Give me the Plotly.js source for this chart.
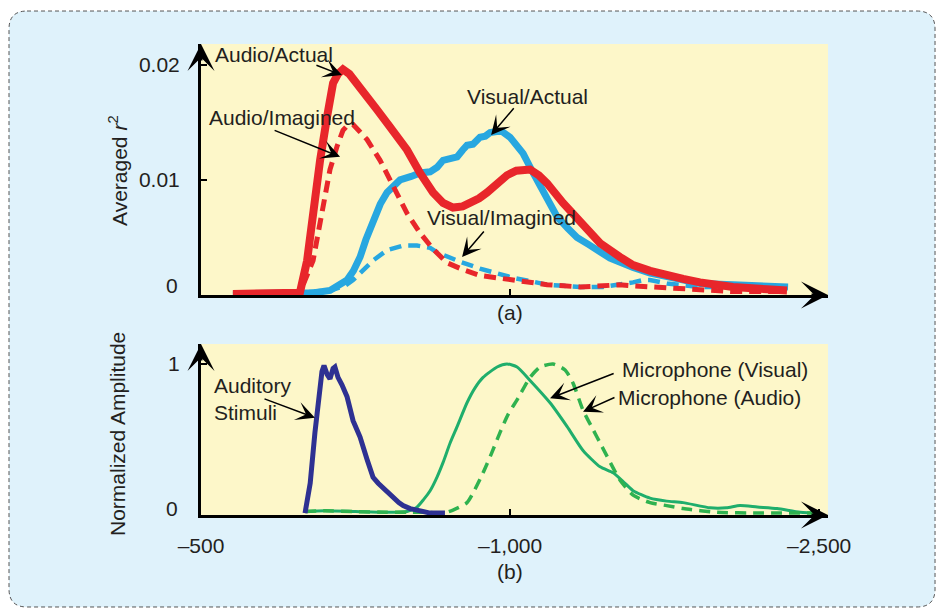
<!DOCTYPE html>
<html><head><meta charset="utf-8">
<script src="https://cdn.plot.ly/plotly-3.0.1.min.js"></script>
<style>html,body{margin:0;padding:0;background:#fff}#chart{width:936px;height:612px}</style>
</head><body><div id="chart"></div>
<script>
// ---------- Panel (a): averaged r^2 ----------
const audioActualT = [-345,-200,-100,-20,15,44,78,112,141,165,189,220,257,300,354,417,460,500,563,626,675,723,770,806,850,888,940,985,1030,1063,1097,1140,1180,1257,1340,1437,1534,1597,1680,1762,1840,1922,2000,2082,2247,2344];
const audioActual  = [0.0001,0.0001,0.0002,0.0002,0.0030,0.0074,0.0117,0.0155,0.0184,0.0192,0.0196,0.0192,0.0184,0.0172,0.0161,0.0146,0.0136,0.0126,0.0106,0.0089,0.0080,0.0076,0.0077,0.0080,0.0084,0.0089,0.0098,0.0104,0.0108,0.0109,0.0109,0.0104,0.0097,0.0080,0.0063,0.0045,0.0033,0.0026,0.0021,0.0017,0.0014,0.0011,0.0009,0.0007,0.0005,0.0004];

const visualActualT = [-345,-117,50,126,170,209,240,272,300,335,370,403,466,520,563,612,646,675,710,743,770,791,820,854,880,903,935,961,1000,1030,1063,1112,1160,1228,1280,1325,1380,1422,1485,1597,1680,1762,1840,1922,2082,2247,2349];
const visualActual  = [0.0001,0.0001,0.0002,0.0004,0.0008,0.0013,0.0021,0.0033,0.0048,0.0065,0.0079,0.0089,0.0100,0.0103,0.0106,0.0107,0.0111,0.0117,0.0118,0.0120,0.0126,0.0130,0.0131,0.0137,0.0138,0.0141,0.0142,0.0142,0.0137,0.0131,0.0123,0.0106,0.0089,0.0068,0.0058,0.0050,0.0044,0.0039,0.0032,0.0024,0.0019,0.0016,0.0013,0.0010,0.0009,0.0008,0.0007];

const audioImaginedT = [-345,-20,44,92,126,160,189,215,238,270,306,369,432,500,563,626,694,772,854,930,1014,1100,1180,1260,1340,1451,1530,1597,1680,1762,1922,2082,2247,2344];
const audioImagined  = [0.0001,0.0002,0.0030,0.0074,0.0109,0.0129,0.0143,0.0148,0.0148,0.0142,0.0135,0.0117,0.0094,0.0071,0.0054,0.0040,0.0028,0.0022,0.0017,0.0015,0.0013,0.0011,0.0009,0.0008,0.0007,0.0008,0.0009,0.0008,0.0007,0.0006,0.0004,0.0003,0.0003,0.0003];

const visualImaginedT = [-345,-117,126,199,238,272,335,403,481,548,612,646,700,757,854,930,1014,1100,1180,1260,1340,1451,1540,1597,1645,1679,1762,1840,1922,2082,2349];
const visualImagined  = [0.0001,0.0001,0.0004,0.0008,0.0013,0.0019,0.0030,0.0039,0.0043,0.0043,0.0041,0.0037,0.0033,0.0029,0.0023,0.0019,0.0015,0.0012,0.0009,0.0008,0.0007,0.0007,0.0009,0.0011,0.0013,0.0013,0.0010,0.0009,0.0007,0.0007,0.0007];

// ---------- Panel (b): normalized amplitude ----------
const stimT = [5,30,53,68,87,97,112,126,141,150,165,184,209,238,272,306,335,360,383,410,432,460,481,515,548,580,612,684];
const stim  = [0,0.20,0.54,0.76,0.95,0.99,0.93,0.90,0.97,0.98,0.91,0.86,0.78,0.62,0.51,0.36,0.24,0.20,0.17,0.13,0.10,0.07,0.05,0.03,0.02,0.01,0,0];

const micVisualT = [5,100,250,400,500,548,580,612,645,675,709,743,791,830,869,937,985,1034,1097,1194,1277,1354,1437,1500,1550,1597,1679,1760,1840,1971,2050,2116,2200,2296,2408,2505];
const micVisual  = [0.01,0.015,0.01,0.005,0.01,0.04,0.09,0.15,0.24,0.34,0.47,0.58,0.74,0.84,0.91,0.98,1.0,0.98,0.89,0.74,0.58,0.42,0.31,0.27,0.21,0.15,0.10,0.08,0.07,0.035,0.035,0.05,0.04,0.03,0.005,0];

const micAudioT = [5,100,250,400,500,600,675,723,791,830,869,910,951,990,1034,1097,1146,1209,1267,1306,1354,1403,1437,1471,1534,1597,1679,1760,1840,2005,2200,2505];
const micAudio  = [0.01,0.015,0.01,0.005,0.005,0.005,0,0.02,0.07,0.16,0.27,0.40,0.54,0.66,0.76,0.91,0.98,1.0,0.96,0.87,0.69,0.56,0.47,0.38,0.22,0.12,0.07,0.05,0.03,0.005,0,0];

// ---------- ticks ----------
const xTickVals = [-500, 1000, 2500];
const xTickText = ['–500', '–1,000', '–2,500'];
const yTopTickVals = [0, 0.01, 0.02];
const yTopTickText = ['0', '0.01', '0.02'];
const yBotTickVals = [0, 1];
const yBotTickText = ['0', '1'];

const FONT = 'Liberation Sans, Arial, Helvetica, sans-serif';
const TXT = '#231f20';
const RED = '#e8262b', BLUE = '#27a7e0', NAVY = '#2e3192', GREEN = '#1fae6c', GREEN2 = '#2fb24f';
const X_RANGE = [-500, 2543];
const YT_RANGE = [0, 0.0218];
const YB_RANGE = [-0.013, 1.134];

const traces = [
  {x: visualImaginedT, y: visualImagined, xaxis:'x', yaxis:'y', mode:'lines', line:{color:BLUE, width:4.5, dash:'12px,7px'}},
  {x: visualActualT, y: visualActual, xaxis:'x', yaxis:'y', mode:'lines', line:{color:BLUE, width:7}},
  {x: audioImaginedT, y: audioImagined, xaxis:'x', yaxis:'y', mode:'lines', line:{color:RED, width:5, dash:'12px,7px'}},
  {x: audioActualT, y: audioActual, xaxis:'x', yaxis:'y', mode:'lines', line:{color:RED, width:8}},
  {x: micVisualT, y: micVisual, xaxis:'x2', yaxis:'y2', mode:'lines', line:{color:GREEN, width:3, shape:'spline', smoothing:0.6}},
  {x: micAudioT, y: micAudio, xaxis:'x2', yaxis:'y2', mode:'lines', line:{color:GREEN2, width:3.5, dash:'11px,7px', shape:'spline', smoothing:0.6}},
  {x: stimT, y: stim, xaxis:'x2', yaxis:'y2', mode:'lines', line:{color:NAVY, width:5}}
];

// rounded dashed frame (paper coordinates)
const fx0 = -0.3062, fx1 = 1.1707, fy0 = -0.1953, fy1 = 1.070, rx = 0.0287, ry = 0.0382;
const framePath = `M${fx0+rx},${fy1} L${fx1-rx},${fy1} Q${fx1},${fy1} ${fx1},${fy1-ry} L${fx1},${fy0+ry} Q${fx1},${fy0} ${fx1-rx},${fy0} L${fx0+rx},${fy0} Q${fx0},${fy0} ${fx0},${fy0+ry} L${fx0},${fy1-ry} Q${fx0},${fy1} ${fx0+rx},${fy1} Z`;

const axisCommon = {showgrid:false, zeroline:false, showline:true, linecolor:'#000', linewidth:3, ticks:'inside', ticklen:6, tickwidth:2, tickcolor:'#000', tickfont:{family:FONT, size:21, color:TXT}, fixedrange:true};

const labelFont = {family:FONT, size:21, color:TXT};
function label(text, x, y, xref, yref, extra) {
  return Object.assign({text, x, y, xref, yref, showarrow:false, xanchor:'left', yanchor:'middle', font:labelFont, align:'left'}, extra||{});
}
function pointer(x, y, ax, ay, xref, yref) {
  return {text:'', x, y, ax, ay, xref, yref, axref:xref, ayref:yref, showarrow:true, arrowhead:3, arrowsize:2.1, arrowwidth:1.5, arrowcolor:'#000', standoff:0};
}
function axisArrow(x, y, ax, ay, xref, yref) {
  return {text:'', x, y, ax, ay, xref, yref, showarrow:true, arrowhead:3, arrowsize:1.5, arrowwidth:3, arrowcolor:'#000', standoff:0};
}

const annotations = [
  label('Audio/Actual', -442, 0.02087, 'x', 'y'),
  label('Audio/Imagined', -471, 0.01539, 'x', 'y'),
  label('Visual/Actual', 781, 0.01722, 'x', 'y'),
  label('Visual/Imagined', 587, 0.0067, 'x', 'y'),
  pointer(184, 0.0191, 53, 0.0200, 'x', 'y'),
  pointer(175, 0.0120, -150, 0.01435, 'x', 'y'),
  pointer(908, 0.0139, 1024, 0.01635, 'x', 'y'),
  pointer(767, 0.0033, 879, 0.00565, 'x', 'y'),
  label('Auditory<br>Stimuli', -447, 0.768, 'x2', 'y2'),
  label('Microphone (Visual)', 1534, 0.96, 'x2', 'y2'),
  label('Microphone (Audio)', 1514, 0.772, 'x2', 'y2'),
  pointer(53, 0.64, -199, 0.77, 'x2', 'y2'),
  pointer(1194, 0.77, 1510, 0.94, 'x2', 'y2'),
  pointer(1354, 0.68, 1514, 0.78, 'x2', 'y2'),
  // zero labels (raised above the x axis)
  {text:yTopTickText[0], x:-0.0335, y:yTopTickVals[0], xref:'paper', yref:'y', xanchor:'right', yanchor:'middle', yshift:10, showarrow:false, font:labelFont},
  {text:yBotTickText[0], x:-0.0335, y:yBotTickVals[0], xref:'paper', yref:'y2', xanchor:'right', yanchor:'middle', yshift:5, showarrow:false, font:labelFont},
  // axis titles & panel tags
  {text:'Averaged <i>r</i><sup>2</sup>', x:-0.1324, y:0.7325, xref:'paper', yref:'paper', textangle:-90, showarrow:false, xanchor:'center', yanchor:'middle', font:labelFont},
  {text:'Normalized Amplitude', x:-0.1324, y:0.172, xref:'paper', yref:'paper', textangle:-90, showarrow:false, xanchor:'center', yanchor:'middle', font:labelFont},
  {text:'(a)', x:1000, y:0.429, xref:'x', yref:'paper', showarrow:false, xanchor:'center', yanchor:'middle', font:labelFont},
  {text:'(b)', x:1000, y:-0.121, xref:'x2', yref:'paper', showarrow:false, xanchor:'center', yanchor:'middle', font:labelFont},
  // axis arrow heads
  axisArrow(X_RANGE[0], YT_RANGE[1], 0, 18, 'x', 'y'),
  axisArrow(X_RANGE[1], YT_RANGE[0], -18, 0, 'x', 'y'),
  axisArrow(X_RANGE[0], YB_RANGE[1], 0, 18, 'x2', 'y2'),
  axisArrow(X_RANGE[1], YB_RANGE[0], -18, 0, 'x2', 'y2')
];

const layout = {
  width:936, height:612,
  margin:{l:201, r:108, t:44, b:97},
  paper_bgcolor:'#ffffff', plot_bgcolor:'rgba(0,0,0,0)',
  showlegend:false,
  font:{family:FONT, color:TXT},
  xaxis: Object.assign({}, axisCommon, {domain:[0,1], range:X_RANGE, anchor:'y', tickvals:[xTickVals[1]], showticklabels:false}),
  yaxis: Object.assign({}, axisCommon, {domain:[0.467,1], range:YT_RANGE, anchor:'x', tickvals:yTopTickVals.slice(1), ticktext:yTopTickText.slice(1), ticklabelstandoff:14}),
  xaxis2: Object.assign({}, axisCommon, {domain:[0,1], range:X_RANGE, anchor:'y2', tickvals:xTickVals, ticktext:xTickText, ticklabelstandoff:10}),
  yaxis2: Object.assign({}, axisCommon, {domain:[0,0.363], range:YB_RANGE, anchor:'x2', tickvals:yBotTickVals.slice(1), ticktext:yBotTickText.slice(1), ticklabelstandoff:14}),
  shapes:[
    {type:'path', xref:'paper', yref:'paper', path:framePath, fillcolor:'#dff2fb', line:{color:'#555', width:1, dash:'4px,3px'}, layer:'below'},
    {type:'rect', xref:'x domain', yref:'y domain', x0:0, x1:1, y0:0, y1:1, fillcolor:'#fdf7c9', line:{width:0}, layer:'below'},
    {type:'rect', xref:'x2 domain', yref:'y2 domain', x0:0, x1:1, y0:0, y1:1, fillcolor:'#fdf7c9', line:{width:0}, layer:'below'}
  ],
  annotations
};

Plotly.newPlot('chart', traces, layout, {displayModeBar:false, staticPlot:true});
</script>
</body></html>
